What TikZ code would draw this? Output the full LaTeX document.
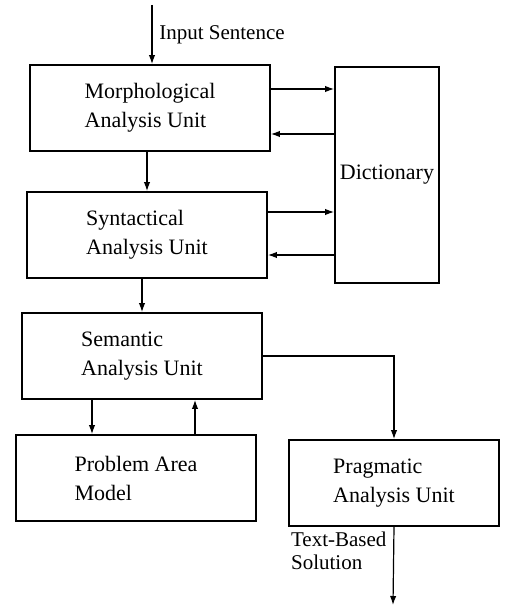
\documentclass[tikz,border=0pt]{standalone}
\usepackage{fontspec}
\setmainfont{Liberation Serif}
\usetikzlibrary{arrows.meta}
\tikzset{
  unit/.style={draw, line width=0.9pt, minimum width=120pt, minimum height=43pt,
    align=left, font=\fontsize{11}{14.5}\selectfont},
  arr/.style={-{Latex[length=4.5pt,width=3.2pt]}, semithick},
  lbl/.style={align=left, font=\fontsize{10.5}{11.5}\selectfont}
}
\begin{document}
\begin{tikzpicture}[x=0.5pt, y=-0.5pt]
    \useasboundingbox (0,0) rectangle (505,610);
    \node[unit] (morph) at (150,108) {Morphological\\Analysis Unit};
    \node[unit] (synt) at (147,235) {Syntactical\\Analysis Unit};
    \node[unit] (sem) at (142,356) {Semantic\\Analysis Unit};
    \node[unit] (model) at (136,478) {Problem Area\\Model};
    \node[unit, minimum width=105pt] (prag) at (394,483) {Pragmatic\\Analysis Unit};
    \node[unit, minimum width=52pt, minimum height=108pt, inner sep=2pt] (dict) at (387,175) {Dictionary};
    \coordinate (in) at (152,5);
    \coordinate (out) at (393,605);
    \draw[arr] (in) -- (in |- morph.north) node[midway, right, lbl] {Input Sentence};
    \draw[arr] ([yshift=9.5pt]morph.east) -- ([yshift=9.5pt]morph.east -| dict.west);
    \draw[arr] ([yshift=-13pt]morph.east -| dict.west) -- ([yshift=-13pt]morph.east);
    \draw[arr] ([yshift=11.5pt]synt.east) -- ([yshift=11.5pt]synt.east -| dict.west);
    \draw[arr] ([yshift=-10pt]synt.east -| dict.west) -- ([yshift=-10pt]synt.east);
    \draw[arr] (morph.south -| synt.north) -- (synt.north);
    \draw[arr] (synt.south -| sem.north) -- (sem.north);
    \draw[arr] ([xshift=-25pt]sem.south) -- ([xshift=-25pt]sem.south |- model.north);
    \draw[arr] ([xshift=26.5pt]sem.south |- model.north) -- ([xshift=26.5pt]sem.south);
    \draw[arr] (sem.east) -| (prag.north);
    \draw[arr] (prag.south) -- (out) node[pos=0.3, left, lbl] {Text-Based\\Solution};
\end{tikzpicture}
\end{document}
